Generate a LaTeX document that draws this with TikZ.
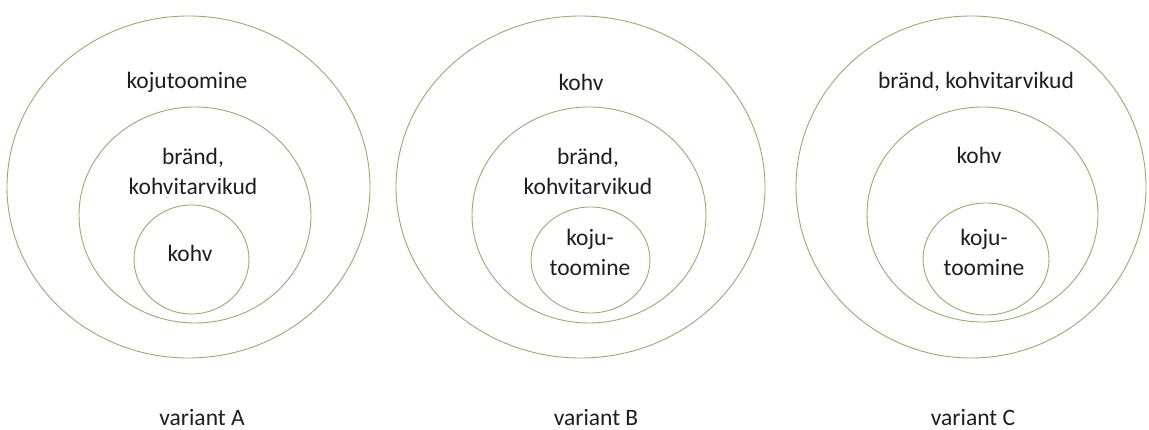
\documentclass[tikz,border=0pt]{standalone}
\usepackage{fontspec}
\setmainfont{Carlito}
\usetikzlibrary{shapes.geometric}
\definecolor{ringgreen}{RGB}{140,178,104}
\definecolor{txt}{RGB}{30,30,30}
\tikzset{
  ring/.style={draw=ringgreen, line width=0.9pt, ellipse, inner sep=0pt, outer sep=0pt},
  lbl/.style={text=txt, align=center, font=\fontsize{23.5}{30}\selectfont, inner sep=0pt}
}
\begin{document}
\begin{tikzpicture}[x=1pt,y=-1pt]
  \useasboundingbox (0,0) rectangle (1149,430);
  % variant A
  \node[ring, minimum width=363, minimum height=342] (aOut) at (188.5,187) {};
  \node[ring, minimum width=232, minimum height=216] (aMid) at (195,215) {};
  \node[ring, minimum width=115, minimum height=109] (aIn) at (191.5,259.5) {};
  \node[lbl] (aOutT) at (187,82) {kojutoomine};
  \node[lbl] (aMidT) at (193,171) {bränd,\\kohvitarvikud};
  \node[lbl] (aInT) at (190,253) {kohv};
  \node[lbl] (aCap) at (202,418) {variant A};
  % variant B
  \node[ring, minimum width=369, minimum height=342] (bOut) at (580.5,187) {};
  \node[ring, minimum width=234, minimum height=216] (bMid) at (589,215) {};
  \node[ring, minimum width=119, minimum height=106] (bIn) at (590.5,260) {};
  \node[lbl] (bOutT) at (581,82) {kohv};
  \node[lbl] (bMidT) at (588,171) {bränd,\\kohvitarvikud};
  \node[lbl] (bInT) at (590,252) {koju-\\toomine};
  \node[lbl] (bCap) at (596,418) {variant B};
  % variant C
  \node[ring, minimum width=350, minimum height=342] (cOut) at (971,187) {};
  \node[ring, minimum width=231, minimum height=215] (cMid) at (982.5,214.5) {};
  \node[ring, minimum width=126, minimum height=112] (cIn) at (986,259) {};
  \node[lbl] (cOutT) at (976,82) {bränd, kohvitarvikud};
  \node[lbl] (cMidT) at (979,155) {kohv};
  \node[lbl] (cInT) at (984,252) {koju-\\toomine};
  \node[lbl] (cCap) at (973,418) {variant C};
\end{tikzpicture}
\end{document}
